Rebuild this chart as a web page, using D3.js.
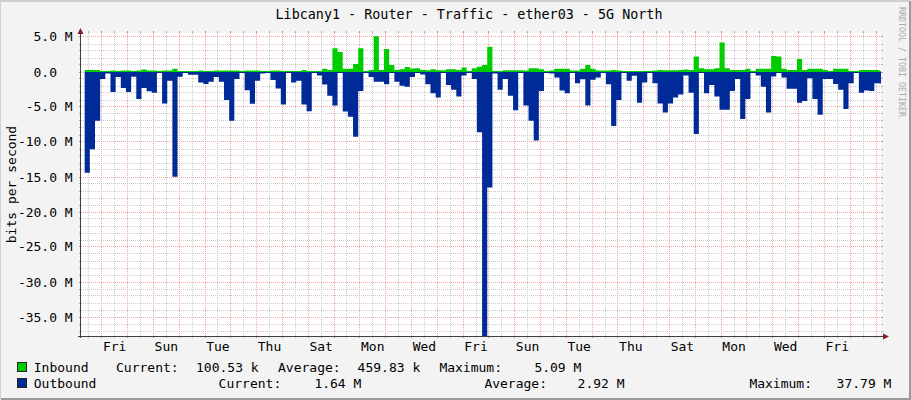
<!DOCTYPE html>
<html><head><meta charset="utf-8">
<script src="https://cdn.jsdelivr.net/npm/d3@7"></script>
<style>
body{margin:0;background:#f3f3f3}
svg{display:block}
text{font-family:"DejaVu Sans Mono",monospace;fill:#000}
</style>
</head><body>
<svg id="chart" width="911" height="400"></svg>
<script>
// ---------------- data ----------------
const chartTitle = "Libcany1 - Router - Traffic - ether03 - 5G North";
const yAxisTitle = "bits per second";
const watermark = "RRDTOOL / TOBI OETIKER";
const seriesNames = ["Inbound", "Outbound"];
const seriesColors = ["#00cc00", "#002a97"];
const statLabels = ["Current:", "Average:", "Maximum:"];
const inboundStats = ["100.53 k", "459.83 k", "5.09 M"];
const outboundStats = ["1.64 M", "2.92 M", "37.79 M"];
const yMajorTicks = [5, 0, -5, -10, -15, -20, -25, -30, -35];   // M bits/s
const rangeStart = "2024-02-29T04:39:00Z";   // left edge of the graph
const rangeDays = 31;
const firstSample = "2024-02-29T08:04:00Z";  // start of first consolidated sample
const sampleHours = 4.8;

// inbound, Mbit/s (per 4.8 h sample)
const inbound = [
 0.3,0.3,0.3,0.1,0.05,0.2,0.05,0.2,0.2,0.05,
 0.2,0.35,0.2,0.2,0.05,0.2,0.2,0.45,0.1,0.05,
 0.05,0.05,0.2,0.1,0.1,0.2,0.2,0.2,0.2,0.2,
 0.05,0.2,0.2,0.2,0.05,0.05,0.2,0.2,0.15,0.1,
 0.15,0.15,0.3,0.15,0.05,0.15,0.45,0.3,3.4,2.85,
 0.45,0.45,1.15,3.4,0.1,0.3,5.09,0.3,3.3,1.0,
 0.3,0.4,0.7,0.5,0.55,0.3,0.25,0.4,0.25,0.25,
 0.4,0.4,0.3,0.65,0.1,0.55,0.75,1.0,3.6,0.05,
 0.15,0.25,0.25,0.25,0.25,0.2,0.55,0.55,0.4,0.05,
 0.2,0.45,0.45,0.45,0.2,0.2,0.45,1.0,0.45,0.2,
 0.2,0.2,0.3,0.2,0.05,0.15,0.15,0.15,0.15,0.15,
 0.2,0.3,0.25,0.25,0.25,0.3,0.35,0.3,2.2,0.55,
 0.4,0.4,0.55,4.2,0.55,0.3,0.3,0.3,0.45,0.1,
 0.45,0.45,0.45,2.3,2.2,0.45,0.3,0.3,1.85,0.3,
 0.45,0.45,0.45,0.3,0.1,0.45,0.45,0.45,0.1,0.1,
 0.3,0.3,0.3,0.3,0.1
];
// outbound, Mbit/s (drawn below zero)
const outbound = [
 14.4,11.05,6.95,1.0,0.2,2.85,0.7,2.3,2.85,0.67,
 3.85,2.3,2.75,2.95,0.1,4.5,1.25,14.95,0.67,0.1,
 0.4,0.4,1.5,1.7,1.4,0.7,1.4,4.0,6.95,1.0,
 0.05,2.6,4.55,1.25,0.2,0.05,1.15,2.35,4.65,0.1,
 1.5,1.25,4.65,5.6,0.05,0.5,1.8,3.4,4.8,0.15,
 5.65,6.4,9.25,2.7,0.15,0.7,1.4,1.4,1.75,0.05,
 1.4,1.95,2.1,0.7,0.15,0.35,1.75,3.05,3.65,0.1,
 1.85,2.55,3.5,0.5,0.05,1.0,8.6,37.79,16.5,0.2,
 2.55,1.0,3.4,5.45,0.1,4.8,6.95,9.8,2.7,0.1,
 0.2,0.8,2.65,3.05,0.1,1.6,1.05,4.8,1.1,0.8,
 0.1,1.75,7.7,4.0,0.1,1.25,0.55,4.4,1.5,0.1,
 1.6,4.5,5.8,4.5,3.65,3.2,0.5,2.95,8.85,0.1,
 3.05,1.85,3.5,5.4,5.4,2.7,1.0,6.7,3.85,0.05,
 0.5,2.1,5.8,0.65,0.05,0.8,2.4,2.4,4.4,4.15,
 0.9,3.85,6.1,1.0,1.0,1.7,2.55,5.3,1.6,0.05,
 2.95,2.65,2.7,1.6,1.64
];

// ---------------- layout ----------------
const W = 911, H = 400;
const plot = {left: 81, right: 881, top: 33, bottom: 336};
const svg = d3.select("#chart");
const DAY = 86400000;

const t0 = new Date(rangeStart);
const t1 = new Date(t0.getTime() + rangeDays * DAY);
const x = d3.scaleUtc().domain([t0, t1]).range([plot.left, plot.right]);
// 7 px per Mbit, zero at y=72
const y = d3.scaleLinear().domain([-264/7, 39/7]).range([plot.bottom, plot.top]);

// background + frame
svg.append("rect").attr("width", W).attr("height", H).attr("fill", "#f3f3f3");
svg.append("path").attr("d", `M0,${H-1}V1H${W-1}`).attr("fill","none").attr("stroke","#cfcfcf").attr("stroke-width",2);
svg.append("path").attr("d", `M1,${H-1}H${W-1}V1`).attr("fill","none").attr("stroke","#9a9a9a").attr("stroke-width",2);
svg.append("rect").attr("x", plot.left).attr("y", plot.top)
  .attr("width", plot.right - plot.left).attr("height", plot.bottom - plot.top).attr("fill", "#fff");

const gridG = svg.append("g");
const minorCol = "#cacaca", majorCol = "#f2a5a5";
const snap = v => Math.floor(v) + 0.5;

// horizontal grid
for (let v = -37; v <= 5; v++) {
  const major = v % 5 === 0;
  const yy = snap(y(v));
  gridG.append("line").attr("x1", plot.left).attr("x2", plot.right).attr("y1", yy).attr("y2", yy)
    .attr("stroke", major ? majorCol : minorCol).attr("stroke-dasharray", "1,1");
  [[plot.left - 2, plot.left], [plot.right, plot.right + 2]].forEach(([a, b]) =>
    gridG.append("line").attr("x1", a).attr("x2", b).attr("y1", yy).attr("y2", yy)
      .attr("stroke", major ? "#e08080" : "#b0b0b0"));
}
// vertical grid: 12h minor, midnight major
const halfDays = d3.utcHour.every(12).range(t0, t1);
halfDays.forEach(d => {
  const major = d.getUTCHours() === 0;
  const xx = snap(x(d));
  gridG.append("line").attr("x1", xx).attr("x2", xx).attr("y1", plot.top).attr("y2", plot.bottom)
    .attr("stroke", major ? majorCol : minorCol).attr("stroke-dasharray", "1,1");
  [[plot.top - 2, plot.top], [plot.bottom, plot.bottom + 2]].forEach(([a, b]) =>
    gridG.append("line").attr("x1", xx).attr("x2", xx).attr("y1", a).attr("y2", b)
      .attr("stroke", major ? "#e08080" : "#b0b0b0"));
});

// data areas
svg.append("clipPath").attr("id", "clip").append("rect")
  .attr("x", plot.left).attr("y", plot.top).attr("width", plot.right - plot.left).attr("height", plot.bottom - plot.top);
const s0 = new Date(firstSample).getTime(), step = sampleHours * 3600000;
function pts(arr) {
  const p = arr.map((v, i) => ({t: new Date(s0 + i * step), v}));
  p.push({t: new Date(s0 + arr.length * step), v: arr[arr.length - 1]});
  return p;
}
const zero = y(0);
const inArea = d3.area().curve(d3.curveStepAfter).x(d => x(d.t)).y0(zero).y1(d => Math.min(y(d.v), zero - 1));
const outArea = d3.area().curve(d3.curveStepAfter).x(d => x(d.t)).y0(zero).y1(d => Math.max(y(-d.v), zero + 1));
const dataG = svg.append("g").attr("clip-path", "url(#clip)");
dataG.append("path").attr("d", outArea(pts(outbound))).attr("fill", seriesColors[1]);
dataG.append("path").attr("d", inArea(pts(inbound))).attr("fill", seriesColors[0]);

// axes
const axisCol = "#404040", arrowCol = "#8b1a1a";
svg.append("line").attr("x1", 80.5).attr("x2", 80.5).attr("y1", plot.bottom + 2).attr("y2", 31).attr("stroke", axisCol);
svg.append("line").attr("x1", 78).attr("x2", 884).attr("y1", 336.5).attr("y2", 336.5).attr("stroke", axisCol);
svg.append("path").attr("d", "M77.5,34L80.5,28L83.5,34Z").attr("fill", arrowCol);
svg.append("path").attr("d", "M883,333.5L889,336.5L883,339.5Z").attr("fill", arrowCol);

// y labels
yMajorTicks.forEach(v => {
  const lbl = v === 0 ? "0.0" : d3.format(".1f")(v).replace("−", "-") + " M";
  svg.append("text").attr("x", v === 0 ? 57 : 72.7).attr("y", snap(y(v)) + 4.6)
    .attr("text-anchor", "end").attr("font-size", 13).text(lbl);
});
// x labels at noon every two days
const fmt = d3.utcFormat("%a");
d3.utcDay.every(1).range(t0, t1).filter((d, i) => true).forEach(d => {
  const first = d3.utcDay.ceil(t0);
  const n = Math.round((d - first) / DAY);
  if (n < 0 || n % 2 !== 0) return;
  const noon = new Date(d.getTime() + DAY / 2);
  if (noon > t1) return;
  svg.append("text").attr("x", x(noon)).attr("y", 351).attr("text-anchor", "middle")
    .attr("font-size", 13).text(fmt(noon));
});

// title, axis title, watermark
svg.append("text").attr("x", 469).attr("y", 19).attr("text-anchor", "middle").attr("font-size", 13.4).text(chartTitle);
svg.append("text").attr("transform", "translate(16,184.5) rotate(-90)").attr("text-anchor", "middle")
  .attr("font-size", 13).text(yAxisTitle);
svg.append("text").attr("transform", "translate(899,7) rotate(90)").attr("font-size", 8.3)
  .style("fill", "#aaaaaa").text(watermark);

// legend
const rows = [
  {name: seriesNames[0], color: seriesColors[0], y: 372, stats: inboundStats,
   xs: [116, 196, 278, 357.6, 439.4, 534.4]},
  {name: seriesNames[1], color: seriesColors[1], y: 388, stats: outboundStats,
   xs: [218.6, 314.4, 484.4, 577.6, 749.4, 836.6]}
];
rows.forEach(r => {
  svg.append("rect").attr("x", 17.5).attr("y", r.y - 9.5).attr("width", 9).attr("height", 9)
    .attr("fill", r.color).attr("stroke", "#222");
  svg.append("text").attr("x", 33.8).attr("y", r.y).attr("font-size", 13).text(r.name);
  statLabels.forEach((s, i) => {
    svg.append("text").attr("x", r.xs[i * 2]).attr("y", r.y).attr("font-size", 13).text(s);
    svg.append("text").attr("x", r.xs[i * 2 + 1]).attr("y", r.y).attr("font-size", 13).text(r.stats[i]);
  });
});
</script>
</body></html>
